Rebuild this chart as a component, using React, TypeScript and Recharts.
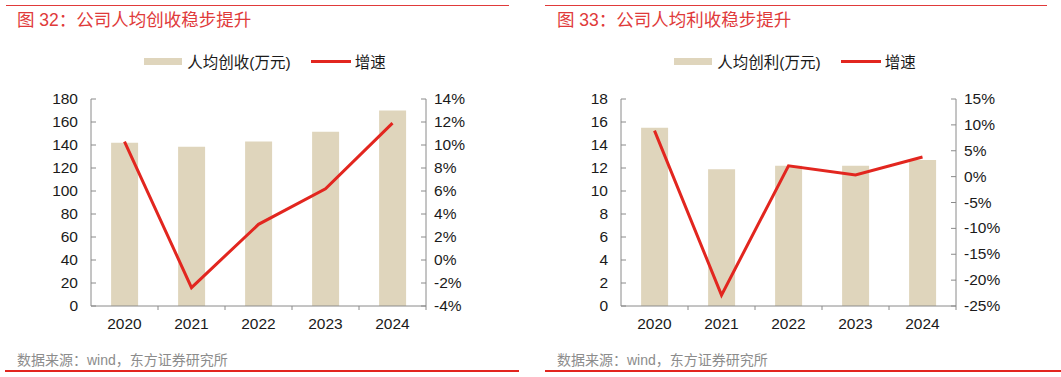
import React from 'react';
import { ComposedChart, Bar, Line, XAxis, YAxis } from 'recharts';

const years = ['2020', '2021', '2022', '2023', '2024'];

// 图32 人均创收
const revenuePerHead = [142, 138.5, 143, 151.5, 170];
const revenueGrowth = [10.3, -2.4, 3.1, 6.2, 11.9];
const revenueTicks = [0, 20, 40, 60, 80, 100, 120, 140, 160, 180];
const revenueGrowthTicks = [-4, -2, 0, 2, 4, 6, 8, 10, 12, 14];

// 图33 人均创利
const profitPerHead = [15.5, 11.9, 12.2, 12.2, 12.7];
const profitGrowth = [8.9, -22.9, 2.1, 0.3, 3.8];
const profitTicks = [0, 2, 4, 6, 8, 10, 12, 14, 16, 18];
const profitGrowthTicks = [-25, -20, -15, -10, -5, 0, 5, 10, 15];

const RED = '#e2261f';
const TITLE_RED = '#e03a3a';
const BEIGE = '#dfd5bc';
const AXIS = '#8a8a8a';
const FONT = '"Liberation Sans", Arial, "Noto Sans CJK SC", sans-serif';
const TICK_FS = 15.5;

const PANEL_W = 530;
const PANEL_H = 377;
const PLOT_LEFT = 91;
const PLOT_RIGHT = 426;
const HALF_BAND = (PLOT_RIGHT - PLOT_LEFT) / years.length / 2;

const LeftTick = (props: any) => {
  const { x, y, payload } = props;
  return (
    <g>
      <line x1={x + 13} x2={x + 18} y1={y} y2={y} stroke={AXIS} />
      <text x={x} y={y} dy={5} textAnchor="end" fontSize={TICK_FS} fill="#1a1a1a" fontFamily={FONT}>
        {payload.value}
      </text>
    </g>
  );
};

const RightTick = (props: any) => {
  const { x, y, payload } = props;
  return (
    <g>
      <line x1={x - 13} x2={x - 8} y1={y} y2={y} stroke={AXIS} />
      <text x={x} y={y} dy={5} textAnchor="start" fontSize={TICK_FS} fill="#1a1a1a" fontFamily={FONT}>
        {payload.value}%
      </text>
    </g>
  );
};

const BottomTick = (props: any) => {
  const { x, y, payload } = props;
  return (
    <g>
      <line x1={x + HALF_BAND} x2={x + HALF_BAND} y1={y} y2={y + 4} stroke={AXIS} />
      <text x={x} y={y + 18} dy={5} textAnchor="middle" fontSize={TICK_FS} fill="#1a1a1a" fontFamily={FONT}>
        {payload.value}
      </text>
    </g>
  );
};

interface PanelProps {
  left: number;
  textLeft: number;
  title: string;
  barName: string;
  bars: number[];
  growth: number[];
  barTicks: number[];
  growthTicks: number[];
  topLine: [number, number];
  bottomLine: [number, number];
}

const Panel = ({ left, textLeft, title, barName, bars, growth, barTicks, growthTicks, topLine, bottomLine }: PanelProps) => {
  const data = years.map((year, i) => ({ year, value: bars[i], growth: growth[i] }));
  return (
    <div style={{ position: 'absolute', left, top: 0, width: PANEL_W, height: PANEL_H, fontFamily: FONT }}>
      <div style={{ position: 'absolute', left: topLine[0], width: topLine[1] - topLine[0], top: 5, height: 1, background: TITLE_RED }} />
      <div style={{ position: 'absolute', left: textLeft, top: 9, fontSize: 17.5, lineHeight: '22px', color: TITLE_RED, whiteSpace: 'nowrap' }}>
        {title}
      </div>

      {/* legend */}
      <div style={{ position: 'absolute', left: 0, width: PANEL_W, top: 50, height: 22, display: 'flex', justifyContent: 'center', alignItems: 'center', fontSize: 15.5, color: '#1a1a1a' }}>
        <span style={{ display: 'inline-block', width: 38, height: 7, background: BEIGE, marginRight: 5 }} />
        <span>{barName}</span>
        <span style={{ display: 'inline-block', width: 40, height: 3, background: RED, marginLeft: 20, marginRight: 4 }} />
        <span>增速</span>
      </div>

      <div style={{ position: 'absolute', left: 0, top: 0 }}>
        <ComposedChart
          width={PANEL_W}
          height={PANEL_H}
          data={data}
          margin={{ top: 99, right: PANEL_W - PLOT_RIGHT - 40, bottom: PANEL_H - 306 - 30, left: PLOT_LEFT - 40 }}
          barCategoryGap="30%"
        >
          <XAxis dataKey="year" height={30} axisLine={{ stroke: AXIS }} tickLine={false} tickSize={0} tickMargin={0} tick={<BottomTick />} interval={0} />
          <YAxis
            yAxisId="left"
            width={40}
            domain={[barTicks[0], barTicks[barTicks.length - 1]]}
            ticks={barTicks}
            interval={0}
            axisLine={{ stroke: AXIS }}
            tickLine={false}
            tickSize={0}
            tickMargin={13}
            tick={<LeftTick />}
          />
          <YAxis
            yAxisId="right"
            orientation="right"
            width={40}
            domain={[growthTicks[0], growthTicks[growthTicks.length - 1]]}
            ticks={growthTicks}
            interval={0}
            axisLine={{ stroke: AXIS }}
            tickLine={false}
            tickSize={0}
            tickMargin={8}
            tick={<RightTick />}
          />
          <Bar yAxisId="left" dataKey="value" fill={BEIGE} isAnimationActive={false} />
          <Line yAxisId="right" type="linear" dataKey="growth" stroke={RED} strokeWidth={3} dot={false} isAnimationActive={false} />
        </ComposedChart>
      </div>

      <div style={{ position: 'absolute', left: textLeft, top: 350, fontSize: 14, lineHeight: '20px', color: '#8c8c8c', whiteSpace: 'nowrap' }}>
        数据来源：wind，东方证券研究所
      </div>
      <div style={{ position: 'absolute', left: bottomLine[0], width: bottomLine[1] - bottomLine[0], top: 370, height: 2, background: RED }} />
    </div>
  );
};

export default function App() {
  return (
    <div style={{ position: 'relative', width: 1061, height: 377, background: '#fff', overflow: 'hidden' }}>
      <style>{'body{margin:0}'}</style>
      <Panel
        left={0}
        textLeft={17}
        title="图 32：公司人均创收稳步提升"
        barName="人均创收(万元)"
        bars={revenuePerHead}
        growth={revenueGrowth}
        barTicks={revenueTicks}
        growthTicks={revenueGrowthTicks}
        topLine={[6, 509]}
        bottomLine={[5, 519]}
      />
      <Panel
        left={530}
        textLeft={27}
        title="图 33：公司人均利收稳步提升"
        barName="人均创利(万元)"
        bars={profitPerHead}
        growth={profitGrowth}
        barTicks={profitTicks}
        growthTicks={profitGrowthTicks}
        topLine={[15, 517]}
        bottomLine={[15, 531]}
      />
    </div>
  );
}
